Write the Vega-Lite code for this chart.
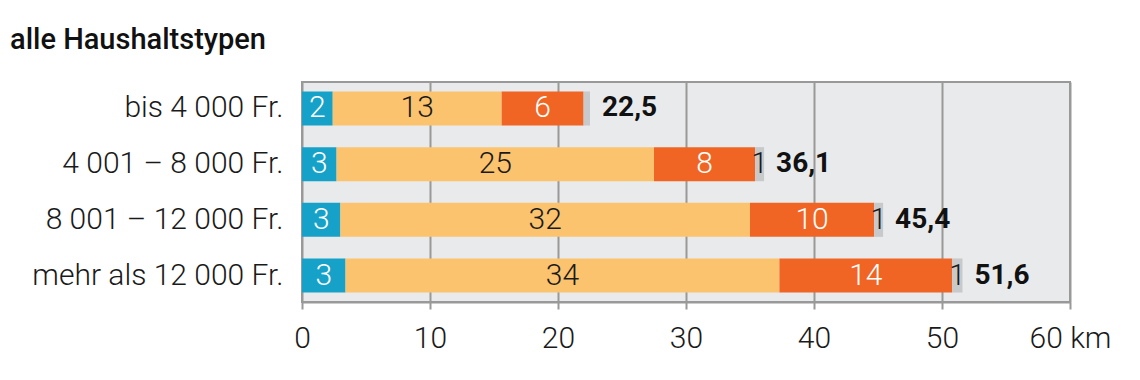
{
  "$schema": "https://vega.github.io/schema/vega-lite/v6.json",
  "autosize": {"type": "none"},
  "width": 768,
  "height": 220,
  "padding": {"left": 302, "top": 82, "right": 70, "bottom": 78},
  "background": "white",
  "title": {
    "text": "alle Haushaltstypen",
    "anchor": "start",
    "frame": "group",
    "dx": -292,
    "offset": 27,
    "font": "Roboto",
    "fontSize": 29,
    "fontWeight": 500,
    "color": "#111"
  },
  "config": {
    "font": "Roboto",
    "view": {"fill": "#e9eaec", "stroke": "#999999", "strokeWidth": 2}
  },
  "datasets": {
    "segments": [
      {"household": "bis 4 000 Fr.", "k": 1, "value": 2.4, "label": "2"},
      {"household": "bis 4 000 Fr.", "k": 2, "value": 13.2, "label": "13"},
      {"household": "bis 4 000 Fr.", "k": 3, "value": 6.4, "label": "6"},
      {"household": "bis 4 000 Fr.", "k": 4, "value": 0.5, "label": ""},
      {"household": "4 001 – 8 000 Fr.", "k": 1, "value": 2.7, "label": "3"},
      {"household": "4 001 – 8 000 Fr.", "k": 2, "value": 24.8, "label": "25"},
      {"household": "4 001 – 8 000 Fr.", "k": 3, "value": 7.9, "label": "8"},
      {"household": "4 001 – 8 000 Fr.", "k": 4, "value": 0.7, "label": "1"},
      {"household": "8 001 – 12 000 Fr.", "k": 1, "value": 3.0, "label": "3"},
      {"household": "8 001 – 12 000 Fr.", "k": 2, "value": 32.0, "label": "32"},
      {"household": "8 001 – 12 000 Fr.", "k": 3, "value": 9.7, "label": "10"},
      {"household": "8 001 – 12 000 Fr.", "k": 4, "value": 0.7, "label": "1"},
      {"household": "mehr als 12 000 Fr.", "k": 1, "value": 3.4, "label": "3"},
      {"household": "mehr als 12 000 Fr.", "k": 2, "value": 33.9, "label": "34"},
      {"household": "mehr als 12 000 Fr.", "k": 3, "value": 13.5, "label": "14"},
      {"household": "mehr als 12 000 Fr.", "k": 4, "value": 0.8, "label": "1"}
    ],
    "totals": [
      {"household": "bis 4 000 Fr.", "total": 22.5, "label": "22,5"},
      {"household": "4 001 – 8 000 Fr.", "total": 36.1, "label": "36,1"},
      {"household": "8 001 – 12 000 Fr.", "total": 45.4, "label": "45,4"},
      {"household": "mehr als 12 000 Fr.", "total": 51.6, "label": "51,6"}
    ]
  },
  "encoding": {
    "y": {
      "field": "household",
      "type": "nominal",
      "sort": ["bis 4 000 Fr.", "4 001 – 8 000 Fr.", "8 001 – 12 000 Fr.", "mehr als 12 000 Fr."],
      "scale": {"paddingInner": 0.388, "paddingOuter": 0.17},
      "axis": {
        "title": null,
        "domain": false,
        "ticks": false,
        "labelFontSize": 30,
        "labelFontWeight": 300,
        "labelColor": "#1a1a1a",
        "labelPadding": 19,
        "labelLimit": 400
      }
    }
  },
  "layer": [
    {
      "data": {"name": "segments"},
      "transform": [
        {"stack": "value", "groupby": ["household"], "sort": [{"field": "k"}], "as": ["x0", "x1"]},
        {"calculate": "(datum.x0 + datum.x1) / 2", "as": "mid"}
      ],
      "layer": [
        {
          "mark": {"type": "bar"},
          "encoding": {
            "x": {
              "field": "x0",
              "type": "quantitative",
              "scale": {"domain": [0, 60], "nice": false},
              "axis": {
                "title": null,
                "values": [0, 10, 20, 30, 40, 50, 60],
                "labelExpr": "datum.value == 60 ? '60 km' : datum.label",
                "grid": true,
                "gridColor": "#999999",
                "gridWidth": 2,
                "gridOpacity": 1,
                "domainColor": "#999999",
                "domainWidth": 2,
                "tickColor": "#999999",
                "tickWidth": 2,
                "tickSize": 7,
                "labelFontSize": 30,
                "labelFontWeight": 300,
                "labelColor": "#1a1a1a",
                "labelPadding": 14,
                "labelFlush": false,
                "labelOverlap": false
              }
            },
            "x2": {"field": "x1"},
            "color": {
              "field": "k",
              "type": "ordinal",
              "scale": {"domain": [1, 2, 3, 4], "range": ["#16a2c8", "#fbc36e", "#f16524", "#c8c9cb"]},
              "legend": null
            }
          }
        },
        {
          "mark": {"type": "text", "fontSize": 30, "fontWeight": 300, "baseline": "middle", "align": "center"},
          "encoding": {
            "x": {"field": "mid", "type": "quantitative"},
            "text": {"field": "label"},
            "color": {
              "condition": {"test": "datum.k == 1 || datum.k == 3", "value": "white"},
              "value": "#1a1a1a"
            }
          }
        }
      ]
    },
    {
      "data": {"name": "totals"},
      "mark": {"type": "text", "fontSize": 28, "fontWeight": "bold", "align": "left", "baseline": "middle", "dx": 12, "color": "#111"},
      "encoding": {
        "x": {"field": "total", "type": "quantitative"},
        "text": {"field": "label"}
      }
    }
  ]
}
